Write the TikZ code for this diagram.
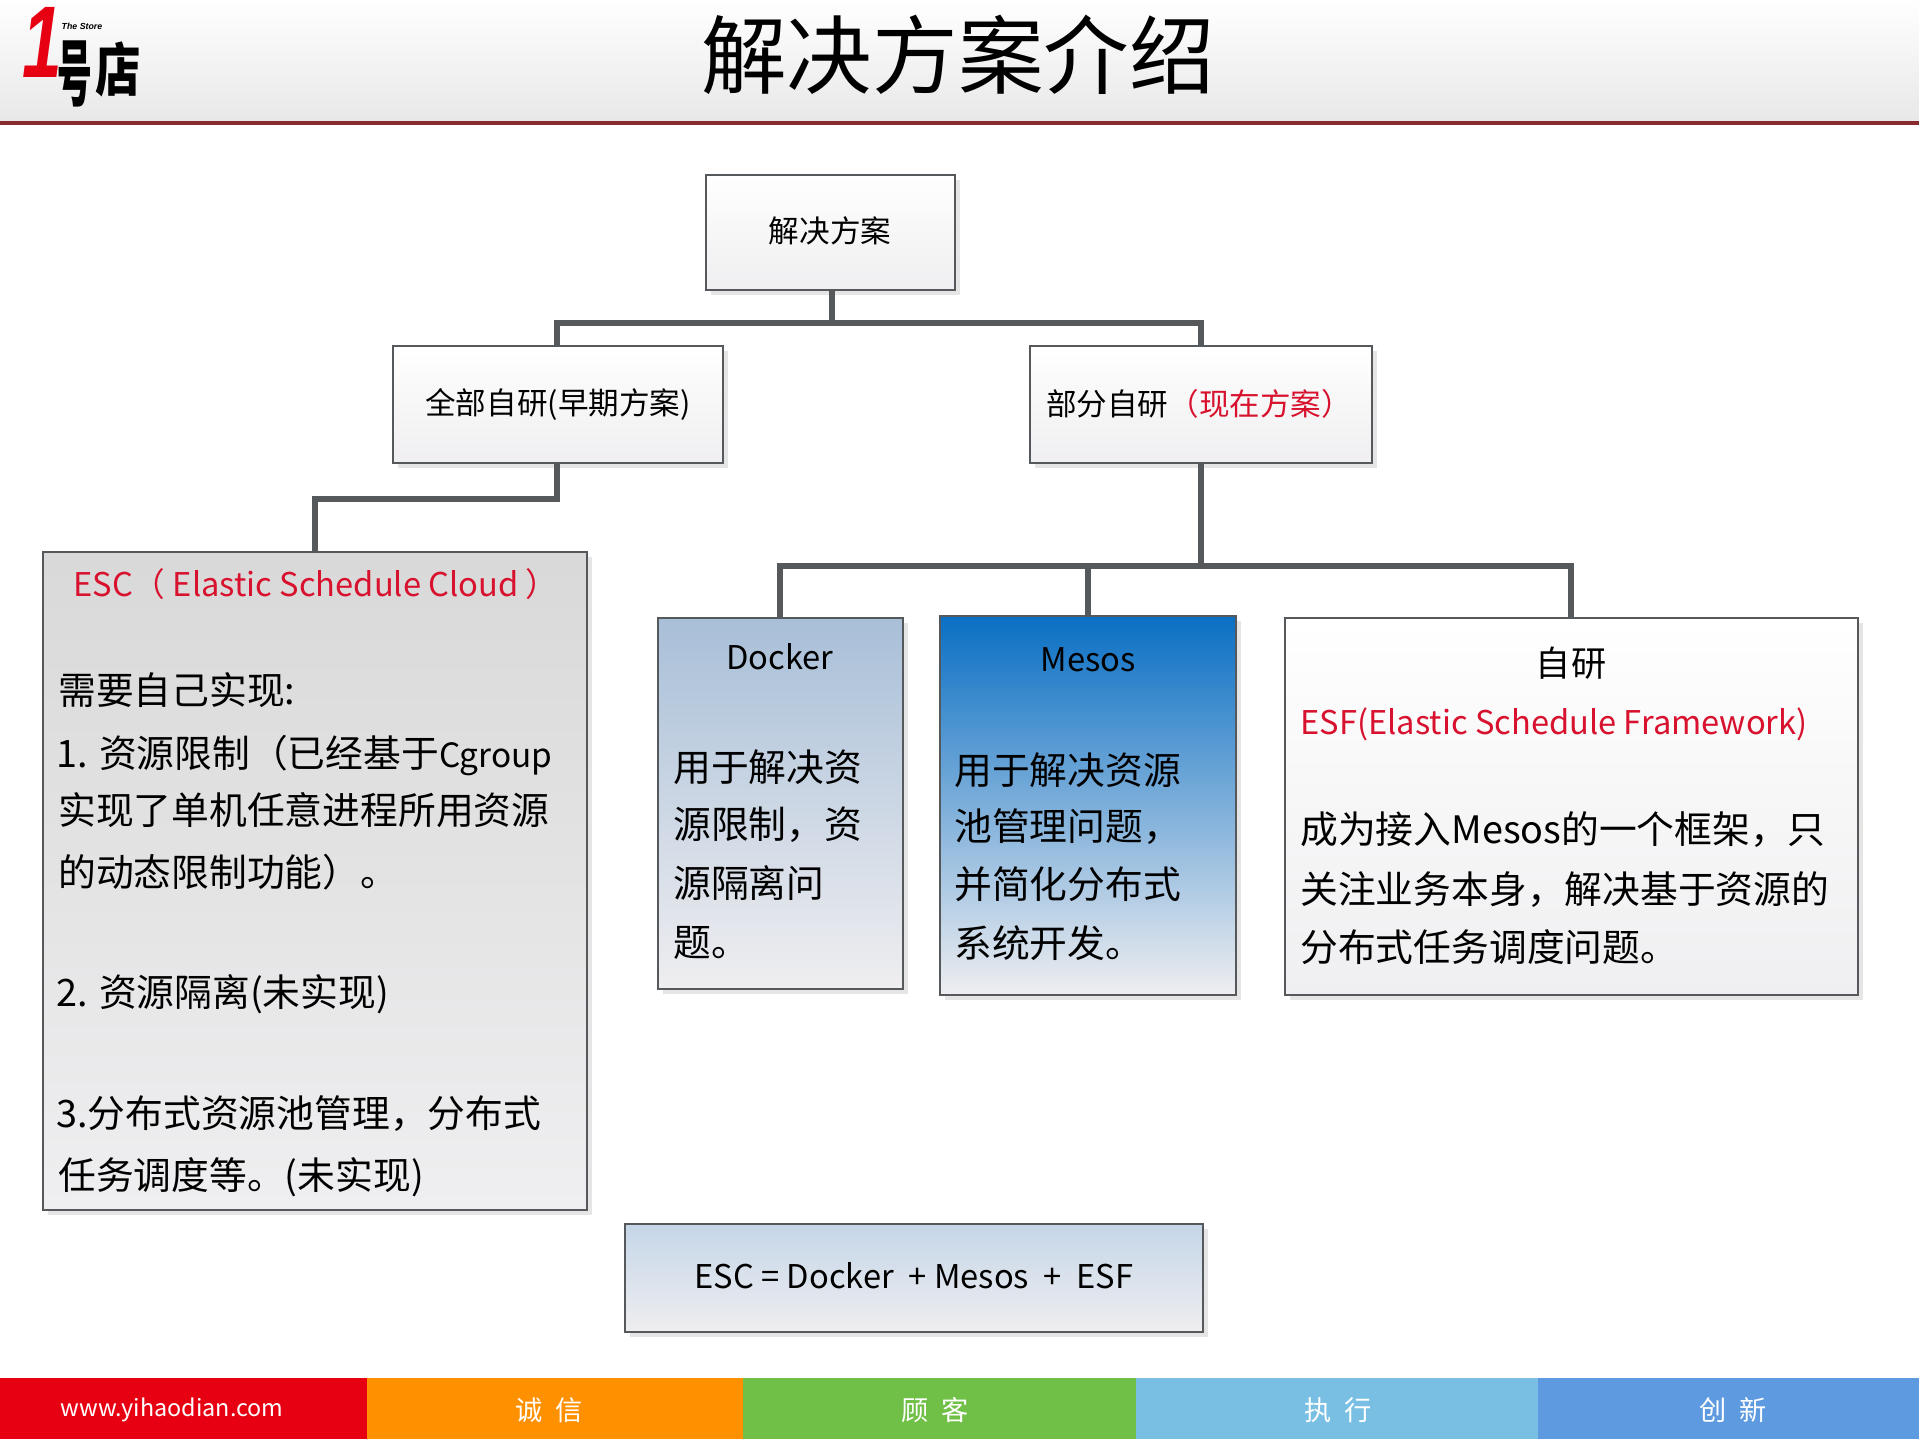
\documentclass[tikz,border=0pt]{standalone}
\usepackage{fontspec}
\setmainfont{Noto Sans CJK SC}
\newfontfamily\logofont{Liberation Sans}
\usetikzlibrary{shadows}
\definecolor{barred}{HTML}{E60012}
\definecolor{barorange}{HTML}{FF9100}
\definecolor{bargreen}{HTML}{70BF46}
\definecolor{barsky}{HTML}{78BFE3}
\definecolor{barblue}{HTML}{5E9ADF}
\definecolor{headline}{HTML}{8B2A2E}
\definecolor{boxline}{HTML}{55595C}
\definecolor{notered}{HTML}{D8122E}
\definecolor{dockertop}{HTML}{A8BFD8}
\definecolor{mesostop}{HTML}{0A6FC4}
\definecolor{sumtop}{HTML}{C5D6E8}
\definecolor{palebot}{HTML}{EFEEF0}
\newcommand{\wideopen}{\symbol{"FF08}}
\newcommand{\wideclose}{\symbol{"FF09}}
\newcommand{\widecomma}{\symbol{"FF0C}}
\begin{document}
\begin{tikzpicture}[x=0.02cm,y=-0.02cm]
	\tikzstyle{every node}+=[inner sep=0pt]
	\tikzstyle{plate}=[draw=boxline,line width=1.6pt,drop shadow={shadow xshift=3pt,shadow yshift=-3pt,fill=black,opacity=0.1}]
	\tikzstyle{conn}=[draw=boxline,line width=3.4pt]
	\tikzstyle{small}=[font=\fontsize{17.4}{21}\selectfont]
	\tikzstyle{latin}=[font=\fontsize{18.6}{22}\selectfont]
	\tikzstyle{body}=[anchor=west,font=\fontsize{21.5}{25}\selectfont]
	\tikzstyle{foot}=[white,font=\fontsize{15.5}{18}\selectfont]
	\tikzstyle{logochar}=[text height=0.8em,text depth=0.05em,font=\fontsize{33}{40}\selectfont\bfseries]
	\useasboundingbox (0,0) rectangle (1919,1439);
	% header
	\fill [top color=white,bottom color=black!9] (0,0) rectangle (1919,121);
	\fill [headline] (0,121) rectangle (1919,125);
	\node (title) at (958,55) {\fontsize{48.7}{58}\selectfont 解决方案介绍};
	\node [xscale=0.7,inner xsep=-3pt,barred,font=\fontsize{58}{60}\logofont\bfseries\itshape] (logoone) at (42,42) {1};
	\node [font=\fontsize{5}{6}\logofont\bfseries\itshape] (logostore) at (82,26) {The Store};
	\node [logochar,xscale=0.6,yscale=1.25] (logohao) at (75,92) {号};
	\node [logochar,xscale=0.78] (logodian) at (118,85) {店};
	% boxes
	\fill [plate,top color=white,bottom color=palebot] (706,175) rectangle (955,290);
	\node [small] (root) at (830,231) {解决方案};
	\coordinate (roots) at (832,290);
	\fill [plate,top color=white,bottom color=palebot] (393,346) rectangle (723,463);
	\node [small] (early) at (558,404) {全部自研(早期方案)};
	\coordinate (earlyn) at (557,346);
	\coordinate (earlys) at (557,463);
	\fill [plate,top color=white,bottom color=palebot] (1030,346) rectangle (1372,463);
	\node [small] (now) at (1199,404) {部分自研\textcolor{notered}{\wideopen 现在方案\wideclose}};
	\coordinate (nown) at (1201,346);
	\coordinate (nows) at (1201,463);
	\fill [plate,top color=black!15,bottom color=palebot] (43,552) rectangle (587,1210);
	\coordinate (escn) at (315,552);
	\fill [plate,top color=dockertop,bottom color=palebot] (658,618) rectangle (903,989);
	\coordinate (dockern) at (780,618);
	\fill [plate,top color=mesostop,bottom color=palebot] (940,616) rectangle (1236,995);
	\coordinate (mesosn) at (1088,616);
	\fill [plate,top color=white,bottom color=palebot] (1285,618) rectangle (1858,995);
	\coordinate (esfn) at (1571,618);
	\fill [plate,top color=sumtop,bottom color=palebot] (625,1224) rectangle (1203,1332);
	% connectors
	\coordinate (busroot) at (832,323);
	\coordinate (busearly) at (557,499);
	\coordinate (busnow) at (1201,566);
	\draw [conn] (roots) -- (busroot);
	\draw [conn] (earlyn) |- (busroot) -| (nown);
	\draw [conn] (earlys) -- (busearly) -| (escn);
	\draw [conn] (nows) -- (busnow);
	\draw [conn] (dockern) |- (busnow) -| (esfn);
	\draw [conn] (mesosn) -- (mesosn |- busnow);
	% esc box
	\node [latin,notered] (esctitle) at (316,584) {ESC\wideopen\ Elastic Schedule Cloud\ \wideclose};
	\node [body] (esca) at (58,690) {需要自己实现:};
	\node [body] (escb) at (56,755) {1. 资源限制\wideopen 已经基于{\fontsize{19}{25}\selectfont Cgroup}};
	\node [body] (escc) at (58,810) {实现了单机任意进程所用资源};
	\node [body] (escd) at (58,872) {的动态限制功能\wideclose 。};
	\node [body] (esce) at (56,994) {2. 资源隔离(未实现)};
	\node [body] (escf) at (56,1114) {3.分布式资源池管理\widecomma 分布式};
	\node [body] (escg) at (58,1177) {任务调度等。(未实现)};
	% docker box
	\node [latin] (dockertitle) at (780,657) {Docker};
	\node [body] (dockera) at (673,767) {用于解决资};
	\node [body] (dockerb) at (673,825) {源限制\widecomma 资};
	\node [body] (dockerc) at (673,883) {源隔离问};
	\node [body] (dockerd) at (673,943) {题。};
	% mesos box
	\node [latin] (mesostitle) at (1088,660) {Mesos};
	\node [body] (mesosa) at (954,770) {用于解决资源};
	\node [body] (mesosb) at (954,827) {池管理问题\widecomma};
	\node [body] (mesosc) at (954,884) {并简化分布式};
	\node [body] (mesosd) at (954,943) {系统开发。};
	% esf box
	\node [small] (esftitle) at (1571,663) {\fontsize{20}{24}\selectfont 自研};
	\node [latin,notered] (esfname) at (1554,724) {ESF(Elastic Schedule Framework)};
	\node [body] (esfa) at (1300,830) {成为接入Mesos的一个框架\widecomma 只};
	\node [body] (esfb) at (1300,890) {关注业务本身\widecomma 解决基于资源的};
	\node [body] (esfc) at (1300,947) {分布式任务调度问题。};
	% sum box
	\node [latin] (sum) at (914,1276) {ESC = Docker\ \ + Mesos\ \ +\ \ ESF};
	% footer
	\fill [barred] (0,1378) rectangle (367,1439);
	\fill [barorange] (367,1378) rectangle (743,1439);
	\fill [bargreen] (743,1378) rectangle (1136,1439);
	\fill [barsky] (1136,1378) rectangle (1538,1439);
	\fill [barblue] (1538,1378) rectangle (1919,1439);
	\node [foot,font=\fontsize{13.3}{16}\selectfont] (web) at (172,1410) {www.yihaodian.com};
	\node [foot] (honest) at (549,1410) {诚\ \ 信};
	\node [foot] (customer) at (935,1410) {顾\ \ 客};
	\node [foot] (execute) at (1338,1410) {执\ \ 行};
	\node [foot] (innovate) at (1733,1410) {创\ \ 新};
\end{tikzpicture}
\end{document}
